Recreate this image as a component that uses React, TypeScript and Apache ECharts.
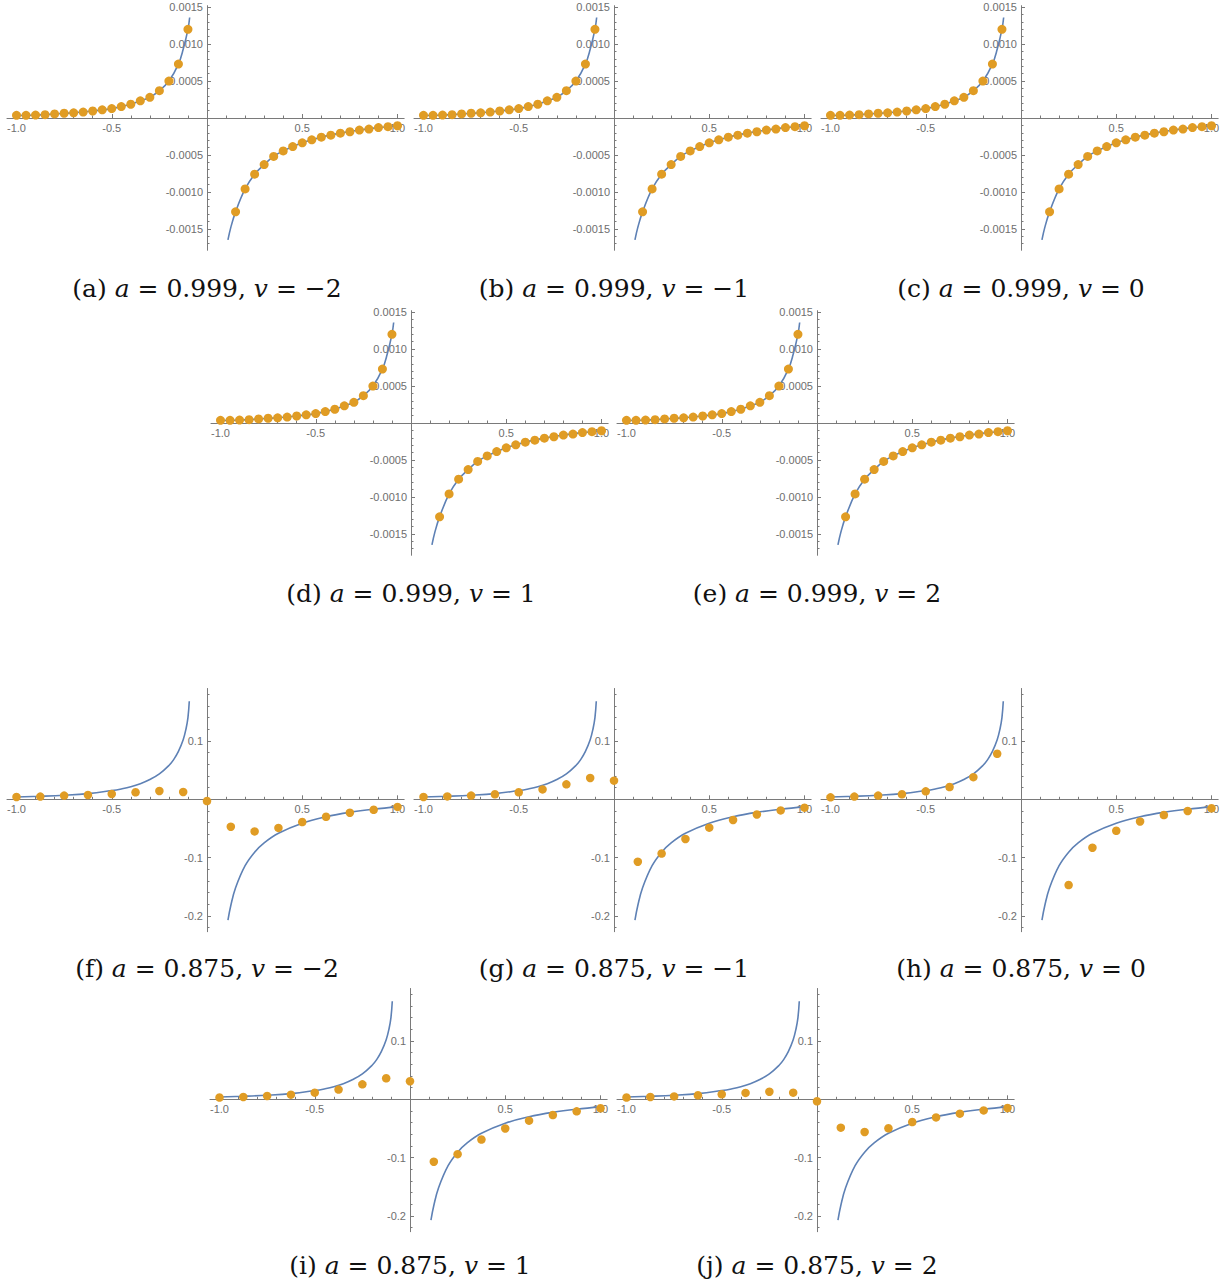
import React, { useEffect, useRef } from "react";
import * as echarts from "echarts";

// ---------- data: panels (a)-(e), a = 0.999 ----------
const topDotX = [-1.0, -0.95, -0.9, -0.85, -0.8, -0.75, -0.7, -0.65, -0.6, -0.55, -0.5, -0.45, -0.4, -0.35, -0.3, -0.25, -0.2, -0.15, -0.1,
  0.15, 0.2, 0.25, 0.3, 0.35, 0.4, 0.45, 0.5, 0.55, 0.6, 0.65, 0.7, 0.75, 0.8, 0.85, 0.9, 0.95, 1.0];
const topDotY = [0.000036, 0.000036, 0.00004, 0.000045, 0.000055, 0.000064, 0.00007, 0.00008, 0.000095, 0.00011, 0.000127, 0.000155, 0.000186, 0.000232, 0.00028, 0.00037, 0.0005, 0.00073, 0.0012,
  -0.00127, -0.00096, -0.00076, -0.00063, -0.00052, -0.000445, -0.000386, -0.000336, -0.000295, -0.00026, -0.000232, -0.000205, -0.000186, -0.000164, -0.00015, -0.00013, -0.000118, -0.000105];

const topCurveLX = [-1.0, -0.9, -0.8, -0.7, -0.6, -0.5, -0.4, -0.35, -0.3, -0.25, -0.2, -0.15, -0.125, -0.1, -0.091];
const topCurveLY = [0.000034, 0.00004, 0.000055, 0.00007, 0.000095, 0.000127, 0.000186, 0.000232, 0.00028, 0.00037, 0.0005, 0.00073, 0.00093, 0.0012, 0.00136];
const topCurveRX = [0.11, 0.125, 0.15, 0.2, 0.25, 0.3, 0.35, 0.4, 0.5, 0.6, 0.7, 0.8, 0.9, 1.0];
const topCurveRY = [-0.00165, -0.00148, -0.00127, -0.00096, -0.00076, -0.00063, -0.00052, -0.000445, -0.000336, -0.00026, -0.000205, -0.000164, -0.00013, -0.000105];

// ---------- data: panels (f)-(j), a = 0.875 ----------
const botDotX = [-1.0, -0.875, -0.75, -0.625, -0.5, -0.375, -0.25, -0.125, 0, 0.125, 0.25, 0.375, 0.5, 0.625, 0.75, 0.875, 1.0];
const dotsF = [0.004, 0.0046, 0.0063, 0.0074, 0.0091, 0.012, 0.0143, 0.0126, -0.003, -0.047, -0.055, -0.049, -0.039, -0.03, -0.023, -0.018, -0.013];
const dotsG = [0.004, 0.005, 0.0063, 0.0086, 0.012, 0.017, 0.0257, 0.0366, 0.032, -0.107, -0.093, -0.068, -0.0486, -0.0354, -0.026, -0.019, -0.0143];
const dotsH = [0.0034, 0.0046, 0.0063, 0.0086, 0.0137, 0.021, 0.038, 0.078, null, null, -0.147, -0.083, -0.054, -0.038, -0.027, -0.02, -0.0154];
const dotsI = [0.003, 0.004, 0.0057, 0.008, 0.0114, 0.0166, 0.0257, 0.036, 0.031, -0.107, -0.094, -0.069, -0.05, -0.0366, -0.027, -0.0206, -0.0154];
const dotsJ = [0.003, 0.004, 0.005, 0.0069, 0.0086, 0.011, 0.013, 0.0114, -0.0034, -0.0486, -0.056, -0.0497, -0.039, -0.031, -0.0246, -0.019, -0.0149];

const botCurveLX = [-1.0, -0.875, -0.75, -0.625, -0.5, -0.45, -0.4, -0.35, -0.3, -0.25, -0.2, -0.175, -0.15, -0.125, -0.11, -0.1, -0.093];
const botCurveLY = [0.004, 0.0052, 0.0069, 0.0097, 0.015, 0.0178, 0.0215, 0.0268, 0.034, 0.0435, 0.058, 0.068, 0.082, 0.102, 0.121, 0.14, 0.168];
const botCurveRX = [0.11, 0.125, 0.15, 0.2, 0.25, 0.3, 0.375, 0.5, 0.625, 0.75, 0.875, 1.0];
const botCurveRY = [-0.207, -0.182, -0.1517, -0.1138, -0.0906, -0.0747, -0.0582, -0.041, -0.03, -0.0224, -0.017, -0.013];

// ---------- tick labels ----------
const xLabelValues = [-1.0, -0.5, 0.5, 1.0];
const topYLabelValues = [-0.0015, -0.001, -0.0005, 0.0005, 0.001, 0.0015];
const botYLabelValues = [-0.2, -0.1, 0.1];

// ---------- layout ----------
const XS = 190.5;
const X_MIN = -1.05;
const X_MAX = 1.035;
const GROUPS: any = {
  top: { ys: 73900, yMin: -0.00179, yMax: 0.00152, yLabels: topYLabelValues, digits: 4, minorStep: 0.0001, minorFrom: -17, minorTo: 15,
    dotX: topDotX, cLX: topCurveLX, cLY: topCurveLY, cRX: topCurveRX, cRY: topCurveRY, dotSize: 9 },
  bottom: { ys: 583.3, yMin: -0.227, yMax: 0.19, yLabels: botYLabelValues, digits: 1, minorStep: 0.02, minorFrom: -11, minorTo: 9,
    dotX: botDotX, cLX: botCurveLX, cLY: botCurveLY, cRX: botCurveRX, cRY: botCurveRY, dotSize: 8.5 },
};

const panels = [
  { tag: "a", a: "0.999", v: "\u22122", ox: 207, oy: 118, cy: 288, group: "top", dots: topDotY },
  { tag: "b", a: "0.999", v: "\u22121", ox: 614, oy: 118, cy: 288, group: "top", dots: topDotY },
  { tag: "c", a: "0.999", v: "0", ox: 1021, oy: 118, cy: 288, group: "top", dots: topDotY },
  { tag: "d", a: "0.999", v: "1", ox: 411, oy: 423, cy: 593, group: "top", dots: topDotY },
  { tag: "e", a: "0.999", v: "2", ox: 817, oy: 423, cy: 593, group: "top", dots: topDotY },
  { tag: "f", a: "0.875", v: "\u22122", ox: 207, oy: 799.3, cy: 968, group: "bottom", dots: dotsF },
  { tag: "g", a: "0.875", v: "\u22121", ox: 614, oy: 799.3, cy: 968, group: "bottom", dots: dotsG },
  { tag: "h", a: "0.875", v: "0", ox: 1021, oy: 799.3, cy: 968, group: "bottom", dots: dotsH },
  { tag: "i", a: "0.875", v: "1", ox: 410, oy: 1099.3, cy: 1265, group: "bottom", dots: dotsI },
  { tag: "j", a: "0.875", v: "2", ox: 817, oy: 1099.3, cy: 1265, group: "bottom", dots: dotsJ },
];

const AXIS_COLOR = "#7a7a7a";
const LABEL_COLOR = "#6e6e6e";
const LINE_COLOR = "#5E81B5";
const DOT_COLOR = "#E09C24";

function zip(xs: number[], ys: (number | null)[]) {
  const out: number[][] = [];
  xs.forEach((x, i) => {
    const y = ys[i];
    if (y !== null && y !== undefined) out.push([x, y]);
  });
  return out;
}

function rangeVals(from: number, to: number, step: number) {
  const out: number[] = [];
  for (let k = from; k <= to; k++) out.push(Math.round(k * step * 1e6) / 1e6);
  return out;
}

function buildOption() {
  const grid: any[] = [];
  const xAxis: any[] = [];
  const yAxis: any[] = [];
  const series: any[] = [];
  const graphic: any[] = [];
  const xMinor = rangeVals(-10, 10, 0.1);
  const hidden = { show: false };

  panels.forEach((p) => {
    const g = GROUPS[p.group];
    const left = p.ox + X_MIN * XS;
    const width = (X_MAX - X_MIN) * XS;
    const top = p.oy - g.yMax * g.ys;
    const height = (g.yMax - g.yMin) * g.ys;
    const yMinor = rangeVals(g.minorFrom, g.minorTo, g.minorStep);

    // data grid
    const gD = grid.length;
    grid.push({ left, top, width, height, containLabel: false, outerBoundsMode: "none" });
    const xD = xAxis.length;
    xAxis.push({ type: "value", gridIndex: gD, min: X_MIN, max: X_MAX, ...hidden });
    const yD = yAxis.length;
    yAxis.push({ type: "value", gridIndex: gD, min: g.yMin, max: g.yMax, ...hidden });

    // x-axis grid: its top edge is the y = 0 line
    const gX = grid.length;
    grid.push({ left, top: p.oy, width, height: top + height - p.oy, containLabel: false, outerBoundsMode: "none" });
    xAxis.push({
      type: "value", gridIndex: gX, min: X_MIN, max: X_MAX, position: "top",
      axisLine: { show: true, onZero: false, lineStyle: { color: AXIS_COLOR, width: 1 } },
      axisTick: { show: true, inside: false, length: 4, customValues: xLabelValues, lineStyle: { color: AXIS_COLOR } },
      axisLabel: { show: true, inside: true, customValues: xLabelValues, margin: 4, color: LABEL_COLOR, fontFamily: "Liberation Sans", fontSize: 11,
        formatter: (v: number) => v.toFixed(1) },
      splitLine: { show: false },
    });
    xAxis.push({
      type: "value", gridIndex: gX, min: X_MIN, max: X_MAX, position: "top",
      axisLine: { show: false, onZero: false },
      axisTick: { show: true, inside: false, length: 2.5, customValues: xMinor, lineStyle: { color: AXIS_COLOR } },
      axisLabel: { show: false },
      splitLine: { show: false },
    });
    yAxis.push({ type: "value", gridIndex: gX, min: 0, max: 1, ...hidden });

    // y-axis grid: its left edge is the x = 0 line
    const gY = grid.length;
    grid.push({ left: p.ox, top, width: left + width - p.ox, height, containLabel: false, outerBoundsMode: "none" });
    yAxis.push({
      type: "value", gridIndex: gY, min: g.yMin, max: g.yMax, position: "left",
      axisLine: { show: true, onZero: false, lineStyle: { color: AXIS_COLOR, width: 1 } },
      axisTick: { show: true, inside: true, length: 4, customValues: g.yLabels, lineStyle: { color: AXIS_COLOR } },
      axisLabel: { show: true, customValues: g.yLabels, margin: 4, color: LABEL_COLOR, fontFamily: "Liberation Sans", fontSize: 11,
        formatter: (v: number) => v.toFixed(g.digits) },
      splitLine: { show: false },
    });
    yAxis.push({
      type: "value", gridIndex: gY, min: g.yMin, max: g.yMax, position: "left",
      axisLine: { show: false, onZero: false },
      axisTick: { show: true, inside: true, length: 2.5, customValues: yMinor, lineStyle: { color: AXIS_COLOR } },
      axisLabel: { show: false },
      splitLine: { show: false },
    });
    xAxis.push({ type: "value", gridIndex: gY, min: 0, max: 1, ...hidden });

    const lineCommon = {
      type: "line", xAxisIndex: xD, yAxisIndex: yD, showSymbol: false, symbol: "none",
      smooth: 0.4, z: 2,
      lineStyle: { color: LINE_COLOR, width: 1.6 },
    };
    series.push({ ...lineCommon, data: zip(g.cLX, g.cLY) });
    series.push({ ...lineCommon, data: zip(g.cRX, g.cRY) });
    series.push({
      type: "scatter", xAxisIndex: xD, yAxisIndex: yD, symbol: "circle", symbolSize: g.dotSize, z: 3,
      itemStyle: { color: DOT_COLOR, opacity: 1 },
      data: zip(g.dotX, p.dots),
    });

    graphic.push({
      type: "text",
      x: p.ox,
      y: p.cy,
      style: {
        text: `{n|(${p.tag}) }{i|a}{n| = ${p.a}, }{i|v}{n| = ${p.v}}`,
        align: "center",
        verticalAlign: "middle",
        rich: {
          n: { fontFamily: "DejaVu Serif", fontSize: 25, fill: "#111" },
          i: { fontFamily: "DejaVu Serif", fontSize: 25, fontStyle: "italic", fill: "#111" },
        },
      },
    });
  });

  return {
    animation: false,
    backgroundColor: "#ffffff",
    grid, xAxis, yAxis, series, graphic,
  };
}

export default function App() {
  const ref = useRef<HTMLDivElement>(null);
  useEffect(() => {
    if (!ref.current) return;
    const chart = echarts.init(ref.current, null, { renderer: "svg" });
    chart.setOption(buildOption() as any);
    return () => chart.dispose();
  }, []);
  return (
    <div
      ref={ref}
      style={{ position: "absolute", left: 0, top: 0, width: 1225, height: 1287, background: "#fff" }}
    />
  );
}
